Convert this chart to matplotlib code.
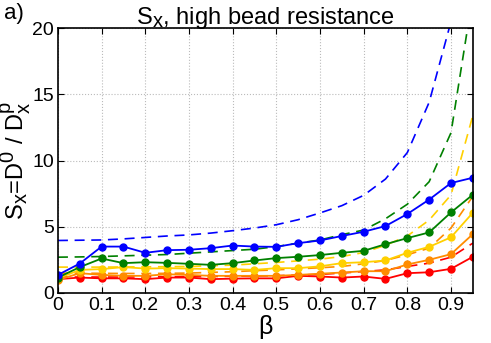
import numpy as np
import matplotlib
matplotlib.use("Agg")
import matplotlib.pyplot as plt
import matplotlib._mathtext as mathtext_internal

plt.rcParams["font.family"] = ["Liberation Sans", "DejaVu Sans"]
plt.rcParams["mathtext.fontset"] = "custom"
plt.rcParams["mathtext.rm"] = "Liberation Sans"
plt.rcParams["mathtext.it"] = "Liberation Sans"
# sub/superscripts in the original are almost full size
mathtext_internal.SHRINK_FACTOR = 0.85

# bead volume fraction
beta = [0.00, 0.05, 0.10, 0.15, 0.20, 0.25, 0.30, 0.35, 0.40, 0.45,
        0.50, 0.55, 0.60, 0.65, 0.70, 0.75, 0.80, 0.85, 0.90, 0.95]

# simulation (solid lines with markers)
blue_sim = [1.36, 2.22, 3.50, 3.50, 3.03, 3.23, 3.26, 3.38, 3.58, 3.50,
            3.48, 3.76, 3.96, 4.30, 4.62, 5.05, 5.96, 7.05, 8.30, 8.70]
green_sim = [1.16, 1.95, 2.60, 2.25, 2.32, 2.27, 2.20, 2.12, 2.25, 2.45,
             2.63, 2.73, 2.86, 3.03, 3.18, 3.68, 4.14, 4.57, 6.08, 7.42]
gold_sim = [1.10, 1.74, 1.80, 1.95, 1.84, 1.87, 1.84, 1.80, 1.80, 1.74,
            1.87, 1.87, 2.01, 2.25, 2.32, 2.45, 3.03, 3.48, 4.20, 6.06]
orange_sim = [0.98, 1.49, 1.36, 1.29, 1.29, 1.41, 1.36, 1.29, 1.29, 1.29,
              1.29, 1.36, 1.45, 1.54, 1.64, 1.64, 2.15, 2.50, 2.93, 4.44]
red_sim = [1.04, 1.16, 1.10, 1.10, 1.04, 1.16, 1.16, 1.04, 1.08, 1.10,
           1.10, 1.29, 1.24, 1.16, 1.24, 1.06, 1.49, 1.56, 1.82, 2.73]

# theory (dashed lines)
blue_th = [3.96, 3.98, 4.00, 4.08, 4.19, 4.30, 4.38, 4.52, 4.70, 4.90,
           5.15, 5.53, 6.04, 6.59, 7.37, 8.60, 10.6, 14.4, 20.5, 45.0]
green_th = [2.70, 2.72, 2.75, 2.80, 2.85, 2.90, 3.00, 3.10, 3.20, 3.30,
            3.50, 3.76, 4.00, 4.40, 4.75, 5.60, 6.70, 8.40, 12.1, 22.5]
gold_th = [1.95, 1.95, 1.95, 1.96, 1.97, 1.98, 2.00, 2.05, 2.10, 2.20,
           2.30, 2.42, 2.55, 2.75, 3.05, 3.60, 4.30, 5.50, 7.40, 13.4]
orange_th = [1.49, 1.49, 1.48, 1.47, 1.47, 1.48, 1.50, 1.55, 1.60, 1.68,
             1.74, 1.82, 1.90, 2.00, 2.20, 2.45, 2.88, 3.38, 4.90, 7.30]
red_th = [1.20, 1.20, 1.20, 1.20, 1.21, 1.22, 1.23, 1.24, 1.26, 1.28,
          1.30, 1.35, 1.40, 1.50, 1.62, 1.74, 2.00, 2.25, 2.70, 3.76]

colors = ["#0000ff", "#008000", "#ffd000", "#ff8c00", "#ff0000"]
sims = [blue_sim, green_sim, gold_sim, orange_sim, red_sim]
theos = [blue_th, green_th, gold_th, orange_th, red_th]

fig = plt.figure(figsize=(4.91, 3.43), dpi=100)
ax = fig.add_axes([0.118, 0.146, 0.845, 0.772])

for c, t in zip(colors, theos):
    ax.plot(beta, t, color=c, linestyle=(0, (6, 4)), linewidth=1.2)
for c, s in reversed(list(zip(colors, sims))):
    ax.plot(beta, s, color=c, linewidth=1.3, marker="o", markersize=5)

ax.set_xlim(0, 0.95)
ax.set_ylim(0, 20)
ax.set_xticks([0, 0.1, 0.2, 0.3, 0.4, 0.5, 0.6, 0.7, 0.8, 0.9])
ax.set_xticklabels(["0", "0.1", "0.2", "0.3", "0.4", "0.5", "0.6", "0.7", "0.8", "0.9"])
ax.set_yticks([0, 5, 10, 15, 20])
ax.tick_params(direction="in", labelsize=14, top=True, right=True, length=4, pad=3)
ax.grid(color="#bbbbbb", linestyle=":", linewidth=0.8)
ax.set_axisbelow(True)
for sp in ax.spines.values():
    sp.set_linewidth(1.2)

ax.set_title(r"S$_\mathrm{x}$, high bead resistance", fontsize=17, pad=3)
ax.set_xlabel(r"$\beta$", fontsize=18, labelpad=-1)
ax.set_ylabel(r"S$_\mathrm{x}$=D$^\mathrm{0}$ / D$_\mathrm{x}^\mathrm{p}$", fontsize=17, labelpad=-1)
fig.text(0.008, 0.99, "a)", fontsize=16, va="top", ha="left")

fig.savefig("out.png", dpi=100)
